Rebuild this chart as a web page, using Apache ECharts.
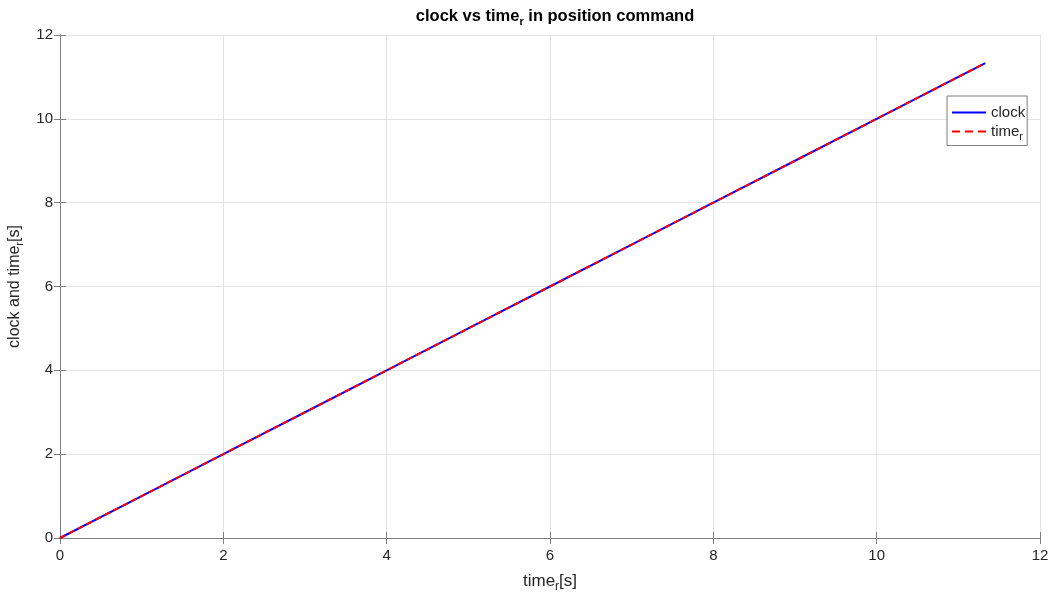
<!DOCTYPE html>
<html>
<head>
<meta charset="utf-8">
<script src="https://cdn.jsdelivr.net/npm/echarts@6/dist/echarts.min.js"></script>
<style>
html,body{margin:0;padding:0;background:#fff;}
#c{width:1057px;height:592px;}
</style>
</head>
<body>
<div id="c"></div>
<script>
var timeR = [0, 1, 2, 3, 4, 5, 6, 7, 8, 9, 10, 11, 11.33];
var clockVals = [0, 1, 2, 3, 4, 5, 6, 7, 8, 9, 10, 11, 11.33];
var timeRVals = [0, 1, 2, 3, 4, 5, 6, 7, 8, 9, 10, 11, 11.33];
var xTicks = [0, 2, 4, 6, 8, 10, 12];
var yTicks = [0, 2, 4, 6, 8, 10, 12];
var seriesNames = ['clock', 'time_r'];

var FONT = 'Liberation Sans, Arial, Helvetica, sans-serif';
var TXT = '#262626';
var AX = '#7f7f7f';
var GRID = '#e3e3e3';

var legendIcons = {
  clock: 'path://M0,0h34v2h-34z',
  time_r: 'path://M0,0h8v2h-8zM13,0h8v2h-8zM26,0h8v2h-8z'
};

function pairs(xs, ys) { return xs.map(function (x, i) { return [x, ys[i]]; }); }

function subRich(size) {
  return {
    m: { fontSize: size, color: TXT, fontFamily: FONT },
    s: { fontSize: Math.round(size * 0.7), color: TXT, fontFamily: FONT, padding: [Math.round(size * 0.7), 0, 0, 0] }
  };
}

var chart = echarts.init(document.getElementById('c'));
var option = {
  backgroundColor: '#fff',
  animation: false,
  title: {
    text: '{b|clock vs time}{bs|r}{b| in position command}',
    left: 550, top: 0, textAlign: 'center',
    textStyle: {
      rich: {
        b: { fontSize: 16.5, fontWeight: 'bold', color: '#000', fontFamily: FONT },
        bs: { fontSize: 11, fontWeight: 'bold', color: '#000', fontFamily: FONT, padding: [11, 0, 0, 0] }
      }
    }
  },
  grid: { left: 60, right: 17, top: 35, bottom: 54, show: false, outerBoundsMode: 'none', containLabel: false },
  legend: {
    data: seriesNames.map(function (n) { return { name: n, icon: legendIcons[n] }; }),
    left: 947, top: 96,
    orient: 'vertical',
    itemWidth: 34, itemHeight: 2, itemGap: 4,
    padding: [9, 2, 3, 5],
    backgroundColor: '#fff',
    borderColor: '#7f7f7f', borderWidth: 1,
    formatter: function (n) { return n === 'time_r' ? '{m|time}{s|r}' : '{m|' + n + '}'; },
    textStyle: { rich: subRich(15) }
  },
  xAxis: [{
    type: 'value', min: 0, max: 12, interval: 2,
    name: '{m|time}{s|r}{m|[s]}', nameLocation: 'middle', nameGap: 31,
    nameTextStyle: { rich: subRich(17) },
    axisLine: { show: true, lineStyle: { color: AX } },
    axisTick: { show: true, inside: true, length: 6, lineStyle: { color: AX } },
    axisLabel: { color: TXT, fontSize: 15, fontFamily: FONT, margin: 10,
      formatter: function (v) { return xTicks.indexOf(v) >= 0 ? String(v) : ''; } },
    splitLine: { show: true, lineStyle: { color: GRID } }
  }, {
    type: 'value', min: 0, max: 12, interval: 2, position: 'top',
    axisLine: { show: true, lineStyle: { color: AX } },
    axisTick: { show: true, inside: true, length: 6, lineStyle: { color: AX } },
    axisLabel: { show: false }, splitLine: { show: false }
  }],
  yAxis: [{
    type: 'value', min: 0, max: 12, interval: 2,
    name: '{m|clock and time}{s|r}{m|[s]}', nameLocation: 'middle', nameGap: 27,
    nameTextStyle: { rich: subRich(16) },
    axisLine: { show: true, lineStyle: { color: AX } },
    axisTick: { show: true, inside: true, length: 6, lineStyle: { color: AX } },
    axisLabel: { color: TXT, fontSize: 15, fontFamily: FONT, margin: 7,
      formatter: function (v) { return yTicks.indexOf(v) >= 0 ? String(v) : ''; } },
    splitLine: { show: true, lineStyle: { color: GRID } }
  }, {
    type: 'value', min: 0, max: 12, interval: 2, position: 'right',
    axisLine: { show: true, lineStyle: { color: AX } },
    axisTick: { show: true, inside: true, length: 6, lineStyle: { color: AX } },
    axisLabel: { show: false }, splitLine: { show: false }
  }],
  series: [{
    name: 'clock', type: 'line', data: pairs(timeR, clockVals),
    showSymbol: false, symbol: 'none',
    lineStyle: { color: '#0000ff', width: 2 }, itemStyle: { color: '#0000ff' }
  }, {
    name: 'time_r', type: 'line', data: pairs(timeR, timeRVals),
    showSymbol: false, symbol: 'none',
    lineStyle: { color: '#ff0000', width: 2, type: [6, 4] }, itemStyle: { color: '#ff0000' }
  }]
};
chart.setOption(option);
</script>
</body>
</html>
